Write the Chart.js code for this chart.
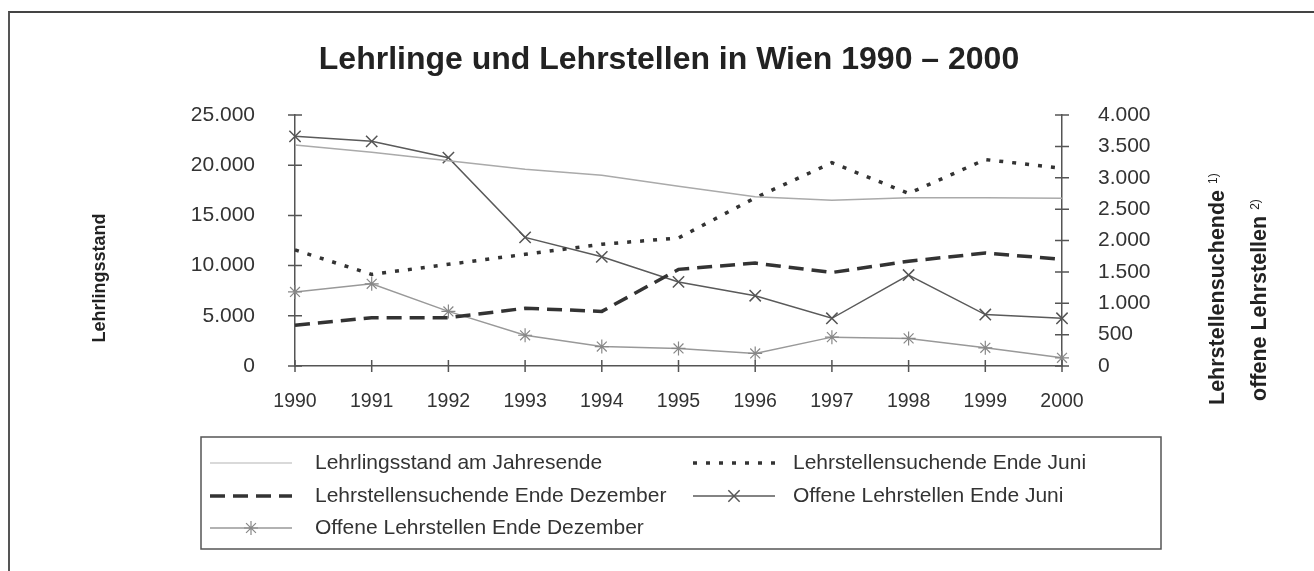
<!DOCTYPE html>
<html>
<head>
<meta charset="utf-8">
<script src="https://cdn.jsdelivr.net/npm/chart.js@4"></script>
<style>
  html, body { margin: 0; padding: 0; background: #fff; overflow: hidden; }
  #frame { position: absolute; left: 8px; top: 11px; width: 1400px; height: 700px;
           border-top: 2px solid #444; border-left: 2px solid #555; }
  #wrap { position: absolute; left: 0; top: 0; }
</style>
</head>
<body>
<div id="frame"></div>
<div id="wrap"><canvas id="lehrChart" width="1314" height="571"></canvas></div>
<script>
// Jahre
var years = ['1990', '1991', '1992', '1993', '1994', '1995', '1996', '1997', '1998', '1999', '2000'];

// linke Achse
var lehrlingsstand = [22000, 21300, 20450, 19600, 19000, 17900, 16850, 16500, 16750, 16750, 16700];

// rechte Achse
var suchendeJuni = [1850, 1460, 1620, 1780, 1940, 2040, 2680, 3240, 2750, 3290, 3150];
var suchendeDez = [650, 770, 770, 920, 870, 1540, 1640, 1490, 1670, 1800, 1700];
var offeneJuni = [3660, 3580, 3320, 2050, 1740, 1340, 1120, 760, 1450, 820, 760];
var offeneDez = [1180, 1310, 870, 490, 310, 280, 200, 460, 440, 290, 130];

var leftTicks = [0, 5000, 10000, 15000, 20000, 25000];
var rightTicks = [0, 500, 1000, 1500, 2000, 2500, 3000, 3500, 4000];

var titleText = 'Lehrlinge und Lehrstellen in Wien 1990 \u2013 2000';
var leftTitle = 'Lehrlingsstand';
var rightTitles = [['Lehrstellensuchende', '1)'], ['offene Lehrstellen', '2)']];

var FONT = '"Liberation Sans", Arial, Helvetica, sans-serif';

function punkt(v) {
    return String(v).replace(/\B(?=(\d{3})+(?!\d))/g, '.');
}

// kleine Querstriche an den Achsen (gehen durch die Achse durch)
var crossTicks = {
    id: 'crossTicks',
    afterDraw: function(chart) {
        var ctx = chart.ctx;
        var area = chart.chartArea;
        ctx.save();
        ctx.strokeStyle = '#555';
        ctx.lineWidth = 1.5;
        ctx.beginPath();
        chart.scales.y.ticks.forEach(function(t) {
            var py = chart.scales.y.getPixelForValue(t.value);
            ctx.moveTo(area.left - 7, py); ctx.lineTo(area.left + 7, py);
        });
        chart.scales.y1.ticks.forEach(function(t) {
            var py = chart.scales.y1.getPixelForValue(t.value);
            ctx.moveTo(area.right - 7, py); ctx.lineTo(area.right + 7, py);
        });
        chart.scales.x.ticks.forEach(function(t, i) {
            var px = chart.scales.x.getPixelForTick(i);
            ctx.moveTo(px, area.bottom - 6); ctx.lineTo(px, area.bottom + 6);
        });
        ctx.stroke();
        ctx.restore();
    }
};

// Achsentitel (von unten nach oben gelesen)
var sideTitles = {
    id: 'sideTitles',
    afterDraw: function(chart) {
        var ctx = chart.ctx;
        ctx.save();
        ctx.fillStyle = '#222';
        ctx.textBaseline = 'middle';

        // links
        ctx.save();
        ctx.translate(100, 278);
        ctx.rotate(-Math.PI / 2);
        ctx.textAlign = 'center';
        ctx.font = 'bold 18px ' + FONT;
        ctx.fillText(leftTitle, 0, 0);
        ctx.restore();

        // rechts
        var pos = [{ x: 1218, y0: 405 }, { x: 1260, y0: 401 }];
        rightTitles.forEach(function(t, i) {
            ctx.save();
            ctx.translate(pos[i].x, pos[i].y0);
            ctx.rotate(-Math.PI / 2);
            ctx.textAlign = 'left';
            ctx.font = 'bold 21.5px ' + FONT;
            var w1 = ctx.measureText(t[0]).width;
            ctx.fillText(t[0], 0, 0);
            ctx.font = '12px ' + FONT;
            ctx.fillText(t[1], w1 + 6, -4);
            ctx.restore();
        });
        ctx.restore();
    }
};

// Legende im Kasten unter dem Diagramm, zwei Spalten
var boxLegend = {
    id: 'boxLegend',
    afterDraw: function(chart) {
        var ctx = chart.ctx;
        var box = { left: 201, top: 437, right: 1161, bottom: 549 };
        var cols = [{ x0: 210, x1: 292, tx: 315 }, { x0: 693, x1: 775, tx: 793 }];
        var rows = [463, 496, 528];
        ctx.save();
        ctx.strokeStyle = '#555';
        ctx.lineWidth = 1.5;
        ctx.strokeRect(box.left, box.top, box.right - box.left, box.bottom - box.top);
        chart.data.datasets.forEach(function(ds, i) {
            var c = cols[i % 2];
            var y = rows[Math.floor(i / 2)];
            ctx.save();
            ctx.strokeStyle = i === 0 ? '#cccccc' : ds.borderColor;
            ctx.lineWidth = ds.borderWidth;
            ctx.setLineDash(ds.borderDash || []);
            ctx.beginPath();
            ctx.moveTo(c.x0, y); ctx.lineTo(c.x1, y);
            ctx.stroke();
            ctx.setLineDash([]);
            if (ds.pointRadius > 0) {
                ctx.strokeStyle = ds.pointBorderColor || ds.borderColor;
                ctx.lineWidth = ds.pointBorderWidth || 1;
                Chart.helpers.drawPoint(ctx, { pointStyle: ds.pointStyle, radius: ds.pointRadius, borderWidth: ds.pointBorderWidth, rotation: 0 }, (c.x0 + c.x1) / 2, y);
            }
            ctx.restore();
            ctx.fillStyle = '#333';
            ctx.font = '21px ' + FONT;
            ctx.textAlign = 'left';
            ctx.textBaseline = 'middle';
            ctx.fillText(ds.label, c.tx, y);
        });
        ctx.restore();
    }
};

var lehrChart = new Chart(document.getElementById('lehrChart'), {
    type: 'line',
    data: {
        labels: years,
        datasets: [{
            label: 'Lehrlingsstand am Jahresende',
            data: lehrlingsstand,
            yAxisID: 'y',
            borderColor: '#aaaaaa',
            borderWidth: 1.5,
            pointRadius: 0
        }, {
            label: 'Lehrstellensuchende Ende Juni',
            data: suchendeJuni,
            yAxisID: 'y1',
            borderColor: '#333333',
            borderWidth: 3.5,
            borderDash: [4, 9],
            pointRadius: 0
        }, {
            label: 'Lehrstellensuchende Ende Dezember',
            data: suchendeDez,
            yAxisID: 'y1',
            borderColor: '#333333',
            borderWidth: 3.5,
            borderDash: [15, 8],
            pointRadius: 0
        }, {
            label: 'Offene Lehrstellen Ende Juni',
            data: offeneJuni,
            yAxisID: 'y1',
            borderColor: '#5a5a5a',
            borderWidth: 1.5,
            pointStyle: 'crossRot',
            pointRadius: 8,
            pointBorderWidth: 1.5,
            pointBorderColor: '#555555'
        }, {
            label: 'Offene Lehrstellen Ende Dezember',
            data: offeneDez,
            yAxisID: 'y1',
            borderColor: '#999999',
            borderWidth: 1.5,
            pointStyle: 'star',
            pointRadius: 7,
            pointBorderWidth: 1.2,
            pointBorderColor: '#888888'
        }]
    },
    options: {
        responsive: false,
        animation: false,
        devicePixelRatio: 1,
        layout: { padding: { left: 24, right: 0, top: 0, bottom: 0 } },
        elements: { line: { tension: 0, borderCapStyle: 'butt' } },
        plugins: {
            legend: { display: false },
            tooltip: { enabled: false },
            title: {
                display: true,
                text: titleText,
                color: '#222',
                font: { family: FONT, size: 32, weight: 'bold', lineHeight: 1.2 },
                padding: { top: 40.8, bottom: 35.8 }
            }
        },
        scales: {
            x: {
                offset: false,
                grid: { display: false },
                border: { display: true, color: '#555', width: 1.5 },
                ticks: { color: '#333', font: { family: FONT, size: 19.5 }, padding: 16, maxRotation: 0 },
                afterFit: function(s) { s.height = 571 - 366; }
            },
            y: {
                position: 'left',
                min: 0, max: 25000,
                afterBuildTicks: function(s) { s.ticks = leftTicks.map(function(v) { return { value: v }; }); },
                grid: { display: false },
                border: { display: true, color: '#555', width: 1.5 },
                ticks: { color: '#333', font: { family: FONT, size: 21 }, padding: 32, callback: punkt },
                afterFit: function(s) { s.width = 295 - 24; }
            },
            y1: {
                position: 'right',
                min: 0, max: 4000,
                afterBuildTicks: function(s) { s.ticks = rightTicks.map(function(v) { return { value: v }; }); },
                grid: { display: false },
                border: { display: true, color: '#555', width: 1.5 },
                ticks: { color: '#333', font: { family: FONT, size: 21 }, padding: 28, callback: punkt },
                afterFit: function(s) { s.width = 1314 - 1062; }
            }
        }
    },
    plugins: [crossTicks, sideTitles, boxLegend]
});
</script>
</body>
</html>
